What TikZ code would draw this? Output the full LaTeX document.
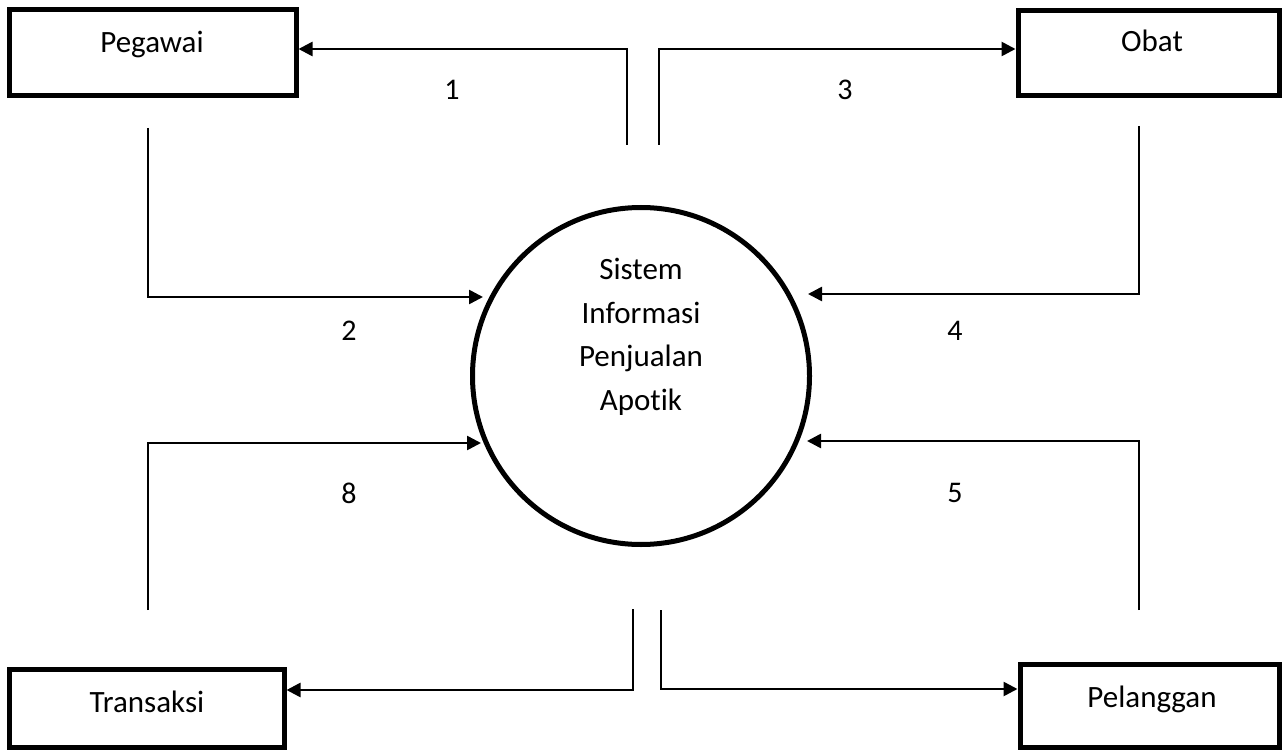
\documentclass[tikz,border=0pt]{standalone}
\usepackage{fontspec}
\setmainfont{Carlito}[Ligatures=NoCommon]
\usetikzlibrary{arrows.meta}
\begin{document}
\begin{tikzpicture}[x=1pt,y=-1pt,
  ent/.style={draw,line width=5pt,inner sep=0pt},
  lbl/.style={inner sep=0pt,anchor=base,font=\fontsize{31}{43.5}\selectfont},
  num/.style={inner sep=0pt,font=\fontsize{30}{36}\selectfont},
  arr/.style={line width=2.6pt,-{Triangle[length=14pt,width=14pt]}}]
\useasboundingbox (0,0) rectangle (1282,751);
% entities
\node[ent,minimum width=287pt,minimum height=86pt] (peg) at (152.5,53) {};
\node[ent,minimum width=261pt,minimum height=85pt] (obat) at (1148.5,53.5) {};
\node[ent,minimum width=275pt,minimum height=78pt] (trans) at (146.5,708) {};
\node[ent,minimum width=259pt,minimum height=83pt] (pel) at (1149.5,705.5) {};
\node[lbl] (pegT) at (152,53) {Pegawai};
\node[lbl] (obatT) at (1152,52) {Obat};
\node[lbl] (transT) at (147,712) {Transaksi};
\node[lbl] (pelT) at (1152,707) {Pelanggan};
% process
\node[draw,circle,line width=5pt,minimum size=337pt,inner sep=0pt] (proc) at (641,376) {};
\node[inner sep=0pt,align=center,font=\fontsize{31}{43.5}\selectfont] (procT) at (641,337) {Sistem\\Informasi\\Penjualan\\Apotik};
% free ends and targets
\coordinate (s1) at (627,145);
\coordinate (s3) at (659,145);
\coordinate (s2) at (148,128);
\coordinate (s4) at (1139,126);
\coordinate (s8) at (148,610);
\coordinate (s5) at (1139,610);
\coordinate (s6) at (633,609);
\coordinate (s7) at (661,610);
\coordinate (t2) at (483,297);
\coordinate (t4) at (808,294);
\coordinate (t8) at (481,443);
\coordinate (t5) at (807,441);
% flows
\draw[arr] (s1) -- (s1 |- 0,49) -- (peg.east |- 0,49);
\draw[arr] (s3) -- (s3 |- 0,49) -- (obat.west |- 0,49);
\draw[arr] (s2) |- (t2);
\draw[arr] (s4) |- (t4);
\draw[arr] (s8) |- (t8);
\draw[arr] (s5) |- (t5);
\draw[arr] (s6) -- (s6 |- 0,690) -- (trans.east |- 0,690);
\draw[arr] (s7) -- (s7 |- 0,689) -- (pel.west |- 0,689);
% labels
\node[num] (n1) at (452,90) {1};
\node[num] (n3) at (845,90) {3};
\node[num] (n2) at (349,331) {2};
\node[num] (n4) at (955,331) {4};
\node[num] (n8) at (349,493) {8};
\node[num] (n5) at (955,493) {5};
\end{tikzpicture}
\end{document}
